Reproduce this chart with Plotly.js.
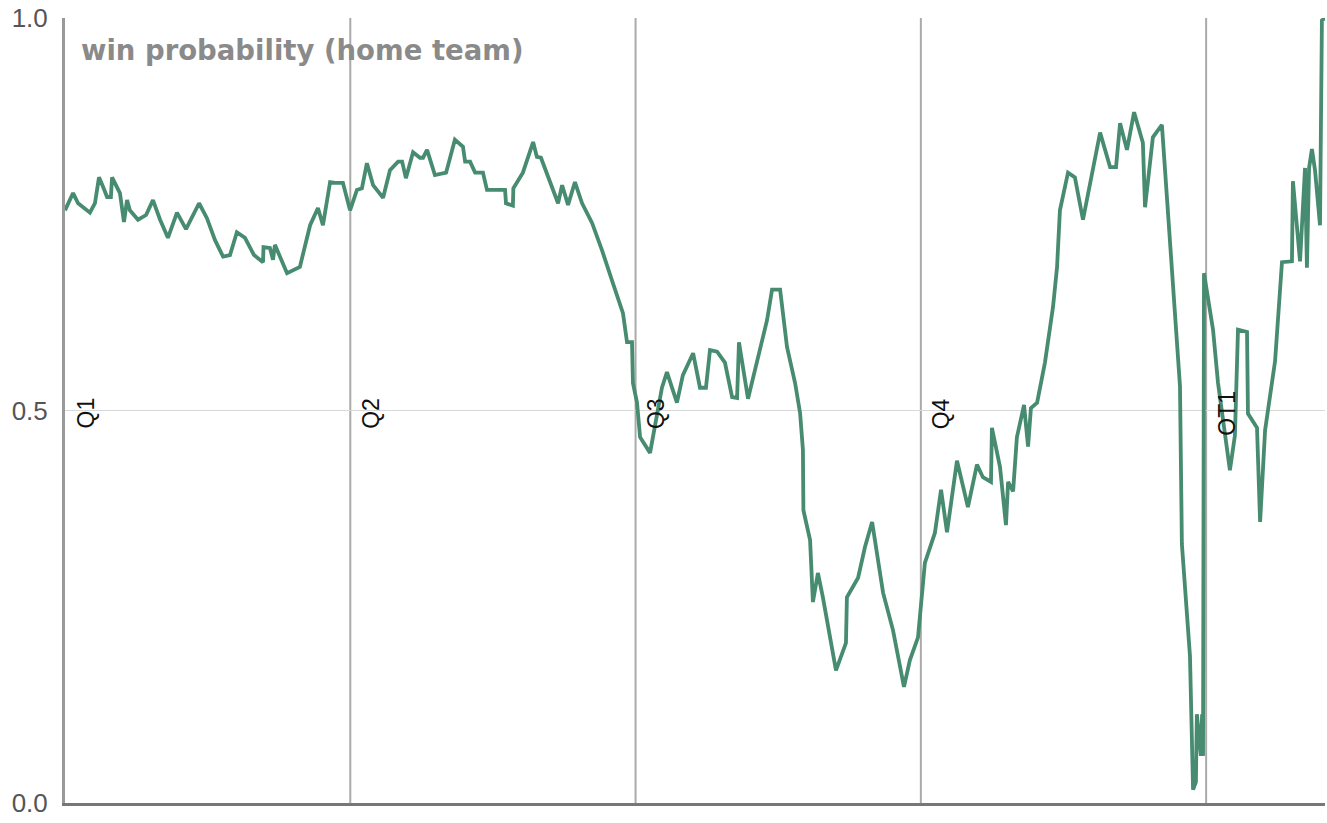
<!DOCTYPE html>
<html>
<head>
<meta charset="utf-8">
<script src="https://cdn.plot.ly/plotly-3.0.1.min.js"></script>
<style>html,body{margin:0;padding:0;background:#fff;}#chart{width:1327px;height:823px;}</style>
</head>
<body>
<div id="chart"></div>
<script>
// game time elapsed (minutes) and home-team win probability
var minutes = [
  0.00,0.34,0.55,1.05,1.26,1.43,1.60,1.77,1.93,1.98,2.31,2.48,2.61,2.73,3.07,3.41,3.70,4.00,4.33,4.71,
  5.09,5.64,5.97,6.31,6.65,6.94,7.23,7.57,7.95,8.33,8.35,8.62,8.75,8.83,9.34,9.88,10.31,10.64,10.85,11.15,
  11.36,11.69,11.99,
  12.28,12.49,12.70,12.96,13.38,13.67,14.01,14.18,14.34,14.64,14.93,15.06,15.23,15.56,16.03,16.40,16.74,16.83,
  17.04,17.25,17.58,17.75,18.51,18.55,18.84,18.86,19.26,19.69,19.85,20.02,20.74,20.91,21.16,21.45,21.75,22.17,
  22.59,23.05,23.47,23.64,23.85,23.89,24.06,
  24.19,24.61,24.73,25.11,25.32,25.74,25.99,26.42,26.71,26.96,27.13,27.43,27.76,28.06,28.27,28.35,28.73,29.11,
  29.53,29.74,30.08,30.37,30.71,30.92,31.04,31.06,31.34,31.46,31.67,31.88,32.43,32.85,32.89,33.36,33.65,33.95,
  34.41,34.83,35.29,35.54,35.88,
  36.17,36.59,36.85,37.10,37.52,37.98,38.36,38.61,38.95,38.99,39.33,39.58,39.67,39.88,40.04,40.34,40.51,40.63,
  40.89,41.22,41.56,41.73,41.85,42.19,42.48,42.82,43.54,43.96,44.21,44.38,44.67,44.97,45.34,45.43,45.76,46.14,
  46.90,46.98,47.32,47.45,47.57,47.61,47.78,47.83,47.87,47.91,
  48.29,48.50,49.00,49.21,49.34,49.72,49.76,50.14,50.27,50.48,50.90,51.19,51.61,51.65,51.95,52.16,52.24,52.33,
  52.45,52.58,52.79,52.87,53.00
];
var winProb = [
  0.755,0.777,0.764,0.752,0.764,0.797,0.785,0.772,0.772,0.797,0.777,0.740,0.768,0.755,0.743,0.749,0.768,0.743,0.720,0.752,
  0.731,0.764,0.745,0.717,0.696,0.698,0.727,0.720,0.698,0.689,0.708,0.707,0.692,0.711,0.675,0.683,0.736,0.758,0.736,0.791,
  0.790,0.790,0.755,
  0.781,0.783,0.815,0.787,0.771,0.806,0.817,0.817,0.796,0.829,0.822,0.822,0.832,0.800,0.803,0.845,0.836,0.817,
  0.817,0.803,0.803,0.781,0.781,0.764,0.761,0.783,0.803,0.842,0.823,0.822,0.764,0.787,0.762,0.791,0.764,0.739,
  0.704,0.662,0.624,0.587,0.587,0.535,0.510,
  0.466,0.446,0.466,0.529,0.549,0.510,0.545,0.573,0.529,0.529,0.577,0.575,0.561,0.517,0.516,0.587,0.515,0.564,
  0.615,0.654,0.654,0.581,0.535,0.497,0.450,0.373,0.335,0.256,0.293,0.262,0.169,0.204,0.262,0.287,0.326,0.358,
  0.268,0.220,0.148,0.182,0.211,
  0.306,0.344,0.399,0.345,0.436,0.377,0.431,0.415,0.409,0.478,0.428,0.354,0.409,0.397,0.466,0.507,0.454,0.503,
  0.510,0.561,0.632,0.683,0.755,0.803,0.797,0.743,0.854,0.810,0.810,0.866,0.832,0.880,0.841,0.759,0.848,0.864,
  0.531,0.330,0.187,0.017,0.027,0.113,0.060,0.113,0.060,0.675,
  0.603,0.535,0.424,0.468,0.603,0.600,0.496,0.478,0.358,0.475,0.563,0.689,0.690,0.792,0.690,0.809,0.682,0.809,
  0.833,0.806,0.736,0.997,1.000
];
var periodStarts = [0, 12, 24, 36, 48];
var periodLabels = ['Q1', 'Q2', 'Q3', 'Q4', 'OT1'];
var yTicks = [0, 0.5, 1];
var yTickLabels = ['0.0', '0.5', '1.0'];
var chartTitle = 'win probability (home team)';

var shapes = [];
var annotations = [];
periodStarts.forEach(function (s, i) {
  if (i > 0) {
    shapes.push({type: 'line', xref: 'x', yref: 'paper', x0: s, x1: s, y0: 0, y1: 1,
      line: {color: '#aaaaaa', width: 2}, layer: 'below'});
  }
  annotations.push({xref: 'x', yref: 'y', x: s, y: 0.5, text: periodLabels[i], textangle: -90,
    showarrow: false, xanchor: 'left', yanchor: 'middle', xshift: 5, yshift: -3,
    font: {family: 'Liberation Sans, Arial, sans-serif', size: 23, color: '#111'}});
});
annotations.push({xref: 'paper', yref: 'paper', x: 0, y: 1, xanchor: 'left', yanchor: 'top',
  xshift: 14, yshift: -14, showarrow: false, text: '<b>' + chartTitle + '</b>',
  font: {family: 'DejaVu Sans, Verdana, sans-serif', size: 27.5, color: '#8a8a8a'}});

var trace = {x: minutes, y: winProb, type: 'scatter', mode: 'lines',
  line: {color: '#478b70', width: 3.8}, hoverinfo: 'x+y'};

var layout = {
  width: 1327, height: 823,
  margin: {l: 65, r: 2, t: 18, b: 20, pad: 0},
  paper_bgcolor: '#ffffff', plot_bgcolor: '#ffffff',
  showlegend: false,
  xaxis: {range: [0, 53], showgrid: false, zeroline: false, showticklabels: false, ticks: '',
    showline: true, linecolor: '#777777', linewidth: 3, fixedrange: true},
  yaxis: {range: [0, 1], tickvals: yTicks, ticktext: yTickLabels, showgrid: true,
    gridcolor: '#d8d8d8', gridwidth: 1.5, zeroline: false, showline: true, linecolor: '#999999',
    linewidth: 3, ticks: '', ticklabelstandoff: 9,
    tickfont: {family: 'Liberation Sans, Arial, sans-serif', size: 26, color: '#555555'}, fixedrange: true},
  shapes: shapes,
  annotations: annotations
};
Plotly.newPlot('chart', [trace], layout, {displayModeBar: false, staticPlot: true});
</script>
</body>
</html>
